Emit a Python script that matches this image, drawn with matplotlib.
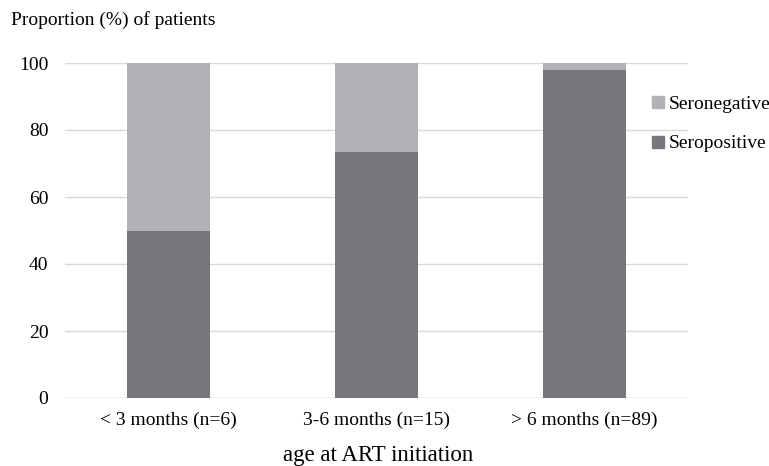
import matplotlib
matplotlib.use("Agg")
import matplotlib.pyplot as plt
from matplotlib.lines import Line2D

categories = ["< 3 months (n=6)", "3-6 months (n=15)", "> 6 months (n=89)"]
seropositive = [50.0, 73.3, 97.8]
seronegative = [50.0, 26.7, 2.2]
yticks = [0, 20, 40, 60, 80, 100]

plt.rcParams['font.family'] = ['Liberation Serif', 'DejaVu Serif']

fig = plt.figure(figsize=(7.69, 4.66), dpi=100)
ax = fig.add_axes([65/769, 1-398/466, (688-65)/769, (398-63)/466])

dark = "#76777b"
light = "#b1b2b6"
x = list(range(len(categories)))
ax.bar(x, seropositive, width=0.4, color=dark, zorder=3)
ax.bar(x, seronegative, width=0.4, bottom=seropositive, color=light, zorder=3)

ax.set_xlim(-0.5, 2.5)
ax.set_ylim(0, 100)
ax.set_yticks(yticks)
ax.set_yticklabels([str(t) for t in yticks], fontsize=14)
ax.set_xticks(x)
ax.set_xticklabels(categories, fontsize=14)
ax.tick_params(axis='both', length=0)
ax.tick_params(axis='y', pad=12)
ax.tick_params(axis='x', pad=10)
ax.grid(axis='y', color="#d9d9d9", linewidth=1, zorder=0)
for s in ax.spines.values():
    s.set_visible(False)
ax.axhline(0, color="#d9d9d9", linewidth=1, zorder=2)

fig.text(378/769, 1-456/466, "age at ART initiation", fontsize=16.5, va='center', ha='center')
fig.text(11/769, 1-20/466, "Proportion (%) of patients", fontsize=14, va='center', ha='left')

handles = [Line2D([], [], marker='s', linestyle='none', markersize=8.5, color=light),
           Line2D([], [], marker='s', linestyle='none', markersize=8.5, color=dark)]
fig.legend(handles, ["Seronegative", "Seropositive"], loc='center left',
           bbox_to_anchor=(648/769, 1-124/466), frameon=False, fontsize=14,
           handletextpad=0.05, labelspacing=1.1, handlelength=1.0,
           borderaxespad=0, borderpad=0)

fig.savefig("out.png", dpi=100)
